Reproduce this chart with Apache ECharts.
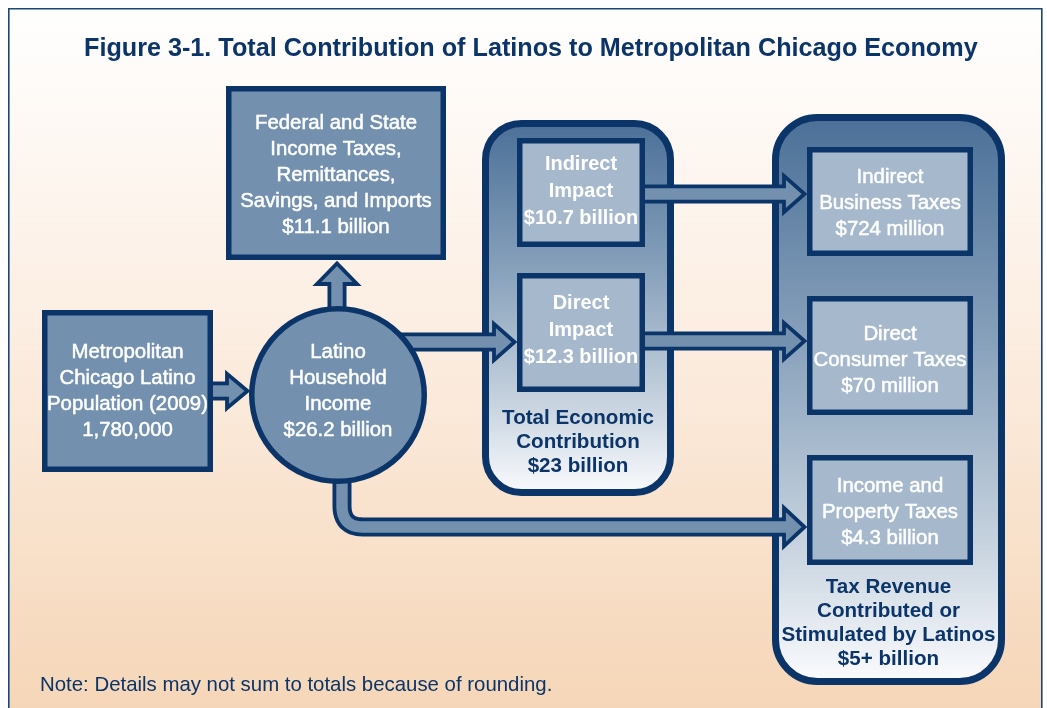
<!DOCTYPE html>
<html>
<head>
<meta charset="utf-8">
<script src="https://cdn.jsdelivr.net/npm/echarts@6/dist/echarts.min.js"></script>
<style>
  html, body { margin: 0; padding: 0; background: #ffffff; }
  #chart { width: 1047px; height: 708px; }
</style>
</head>
<body>
<div id="chart"></div>
<script>
// ---------- content ----------
const titleText = 'Figure 3-1. Total Contribution of Latinos to Metropolitan Chicago Economy';
const noteText = 'Note: Details may not sum to totals because of rounding.';

const nodeNames = [
  'Metropolitan\nChicago Latino\nPopulation (2009)',
  'Latino\nHousehold\nIncome',
  'Federal and State\nIncome Taxes,\nRemittances,\nSavings, and Imports',
  'Indirect\nImpact',
  'Direct\nImpact',
  'Indirect\nBusiness Taxes',
  'Direct\nConsumer Taxes',
  'Income and\nProperty Taxes'
];
const nodeValues = [
  '1,780,000', '$26.2 billion', '$11.1 billion', '$10.7 billion',
  '$12.3 billion', '$724 million', '$70 million', '$4.3 billion'
];
const groupNames = ['Total Economic\nContribution', 'Tax Revenue\nContributed or\nStimulated by Latinos'];
const groupValues = ['$23 billion', '$5+ billion'];

// flows between nodes (index into nodeNames)
const flowFrom = [0, 1, 1, 3, 4, 1];
const flowTo   = [1, 2, 4, 5, 6, 7];

// ---------- layout (diagram units on hidden axes) ----------
const nodeShape = ['rect', 'circle', 'rect', 'rect', 'rect', 'rect', 'rect', 'rect'];
const nodeBox = [
  [42, 310, 213, 472],
  [249, 306, 427, 484],
  [226, 86, 446, 260],
  [517, 138, 645, 247],
  [517, 273, 645, 392],
  [807, 147, 973, 256],
  [807, 296, 973, 415],
  [807, 455, 973, 565]
];
const nodeTextY = [391, 391, 175, 191, 330, 203, 360, 512];
const nodeKind = ['outer', 'outer', 'outer', 'innerBold', 'innerBold', 'inner', 'inner', 'inner'];

const groupBox = [
  [482, 120, 674, 496],
  [772, 114, 1005, 685]
];
const groupRadius = [36, 42];
const groupTextY = [442, 623];

const flowRoute = [
  [[205, 391], [250, 391]],
  [[337, 320], [337, 261]],
  [[395, 342], [517, 342]],
  [[640, 194], [807, 194]],
  [[640, 341], [807, 341]],
  [[342, 470], [342, 527], [807, 527]]
];
const flowHeadHalf = [19, 22, 20, 20, 20, 21];

// ---------- style ----------
const NAVY = '#0b3468';
const STEEL = '#7391ae';
const INNER = '#a6b8cb';
const FONT = '"Liberation Sans", Arial, Helvetica, sans-serif';
const HEAD_LEN = 23;
const SHAFT_OUTER = 19;
const OUTLINE = 3.8;

function containerFill() {
  return new echarts.graphic.LinearGradient(0, 0, 0, 1, [
    { offset: 0, color: '#4a6f97' },
    { offset: 0.4, color: '#88a1bb' },
    { offset: 0.75, color: '#c6d2de' },
    { offset: 1, color: '#fbfcfe' }
  ]);
}

function renderGroup(params, api) {
  const i = api.value(0);
  const b = groupBox[i];
  const p0 = api.coord([b[0], b[1]]);
  const p1 = api.coord([b[2], b[3]]);
  const cx = (p0[0] + p1[0]) / 2;
  const ty = api.coord([0, groupTextY[i]])[1];
  const lw = 7;
  return {
    type: 'group',
    children: [
      {
        type: 'rect',
        shape: { x: p0[0] + lw / 2, y: p0[1] + lw / 2, width: p1[0] - p0[0] - lw, height: p1[1] - p0[1] - lw, r: groupRadius[i] },
        style: { fill: containerFill(), stroke: NAVY, lineWidth: lw }
      },
      {
        type: 'text',
        x: cx, y: ty,
        style: {
          text: groupNames[i] + '\n' + groupValues[i],
          fill: NAVY, fontFamily: FONT, fontSize: 20.6, fontWeight: 'bold',
          lineHeight: 24, align: 'center', verticalAlign: 'middle'
        }
      }
    ]
  };
}

function polyWithCorners(pts, r) {
  // polyline through pts with rounded interior corners
  const out = [pts[0]];
  for (let k = 1; k < pts.length - 1; k++) {
    const a = pts[k - 1], c = pts[k], d = pts[k + 1];
    const u1 = [c[0] - a[0], c[1] - a[1]], l1 = Math.hypot(u1[0], u1[1]);
    const u2 = [d[0] - c[0], d[1] - c[1]], l2 = Math.hypot(u2[0], u2[1]);
    const s = [c[0] - u1[0] / l1 * r, c[1] - u1[1] / l1 * r];
    const e = [c[0] + u2[0] / l2 * r, c[1] + u2[1] / l2 * r];
    const steps = 12;
    for (let t = 0; t <= steps; t++) {
      const q = t / steps;
      out.push([
        (1 - q) * (1 - q) * s[0] + 2 * (1 - q) * q * c[0] + q * q * e[0],
        (1 - q) * (1 - q) * s[1] + 2 * (1 - q) * q * c[1] + q * q * e[1]
      ]);
    }
  }
  out.push(pts[pts.length - 1]);
  return out;
}

function renderFlow(params, api) {
  const i = api.value(0);
  const pts = flowRoute[i].map(function (p) { return api.coord(p); });
  const n = pts.length;
  const tip = pts[n - 1], prev = pts[n - 2];
  let dx = tip[0] - prev[0], dy = tip[1] - prev[1];
  const len = Math.hypot(dx, dy); dx /= len; dy /= len;
  const nx = -dy, ny = dx;
  const base = [tip[0] - dx * HEAD_LEN, tip[1] - dy * HEAD_LEN];
  const h = flowHeadHalf[i] - OUTLINE / 2;
  const outerPts = polyWithCorners(pts.slice(0, n - 1).concat([base]), 21);
  const innerPts = polyWithCorners(pts.slice(0, n - 1).concat([[base[0] + dx * 4, base[1] + dy * 4]]), 21);
  const t = [tip[0] - dx * 2.5, tip[1] - dy * 2.5];
  return {
    type: 'group',
    children: [
      {
        type: 'polyline', shape: { points: outerPts },
        style: { fill: null, stroke: NAVY, lineWidth: SHAFT_OUTER, lineCap: 'butt', lineJoin: 'round' }
      },
      {
        type: 'polygon',
        shape: { points: [[base[0] + nx * h, base[1] + ny * h], t, [base[0] - nx * h, base[1] - ny * h]] },
        style: { fill: STEEL, stroke: NAVY, lineWidth: OUTLINE, lineJoin: 'miter' }
      },
      {
        type: 'polyline', shape: { points: innerPts },
        style: { fill: null, stroke: STEEL, lineWidth: SHAFT_OUTER - 2 * OUTLINE, lineCap: 'butt', lineJoin: 'round' }
      }
    ]
  };
}

function renderNode(params, api) {
  const i = api.value(0);
  const b = nodeBox[i];
  const p0 = api.coord([b[0], b[1]]);
  const p1 = api.coord([b[2], b[3]]);
  const cx = (p0[0] + p1[0]) / 2;
  const ty = api.coord([0, nodeTextY[i]])[1];
  const lw = 5.5;
  const kind = nodeKind[i];
  const fill = kind === 'outer' ? STEEL : INNER;
  const bold = kind === 'innerBold';
  let shape;
  if (nodeShape[i] === 'circle') {
    const cy = (p0[1] + p1[1]) / 2;
    shape = {
      type: 'circle',
      shape: { cx: cx, cy: cy, r: (p1[0] - p0[0]) / 2 - lw / 2 },
      style: { fill: fill, stroke: NAVY, lineWidth: lw }
    };
  } else {
    shape = {
      type: 'rect',
      shape: { x: p0[0] + lw / 2, y: p0[1] + lw / 2, width: p1[0] - p0[0] - lw, height: p1[1] - p0[1] - lw },
      style: { fill: fill, stroke: NAVY, lineWidth: lw }
    };
  }
  return {
    type: 'group',
    children: [
      shape,
      {
        type: 'text',
        x: cx, y: ty,
        style: {
          text: nodeNames[i] + '\n' + nodeValues[i],
          fill: '#ffffff', fontFamily: FONT, fontSize: bold ? 20 : 20.4,
          fontWeight: bold ? 'bold' : 'normal',
          stroke: bold ? null : '#ffffff', lineWidth: bold ? 0 : 0.5,
          lineHeight: bold ? 27 : 26,
          align: 'center', verticalAlign: 'middle'
        }
      }
    ]
  };
}

const chart = echarts.init(document.getElementById('chart'), null, { renderer: 'canvas' });

chart.setOption({
  animation: false,
  backgroundColor: '#ffffff',
  title: [
    {
      text: titleText, left: 84, top: 37, padding: 0,
      textStyle: { color: NAVY, fontFamily: FONT, fontSize: 25.2, fontWeight: 'bold' }
    },
    {
      text: noteText, left: 40, top: 675, padding: 0,
      textStyle: { color: NAVY, fontFamily: FONT, fontSize: 20.4, fontWeight: 'normal' }
    }
  ],
  graphic: [
    {
      type: 'rect', left: 8, top: 8, z: 0,
      shape: { width: 1033, height: 730 },
      style: {
        fill: new echarts.graphic.LinearGradient(0, 0, 0, 1, [
          { offset: 0, color: '#ffffff' },
          { offset: 0.5, color: '#fbebdd' },
          { offset: 1, color: '#f5d4b4' }
        ]),
        stroke: '#1c4676', lineWidth: 1.6
      }
    }
  ],
  grid: { left: 0, right: 0, top: 0, bottom: 0 },
  xAxis: { type: 'value', min: 0, max: 1047, show: false },
  yAxis: { type: 'value', min: 0, max: 708, inverse: true, show: false },
  series: [
    {
      type: 'custom', name: 'groups', z: 3, clip: false,
      data: groupNames.map(function (_, i) { return [i]; }),
      renderItem: renderGroup
    },
    {
      type: 'custom', name: 'flows', z: 4, clip: false,
      data: flowFrom.map(function (_, i) { return [i]; }),
      renderItem: renderFlow
    },
    {
      type: 'custom', name: 'nodes', z: 5, clip: false,
      data: nodeNames.map(function (_, i) { return [i]; }),
      renderItem: renderNode
    }
  ]
});
</script>
</body>
</html>
